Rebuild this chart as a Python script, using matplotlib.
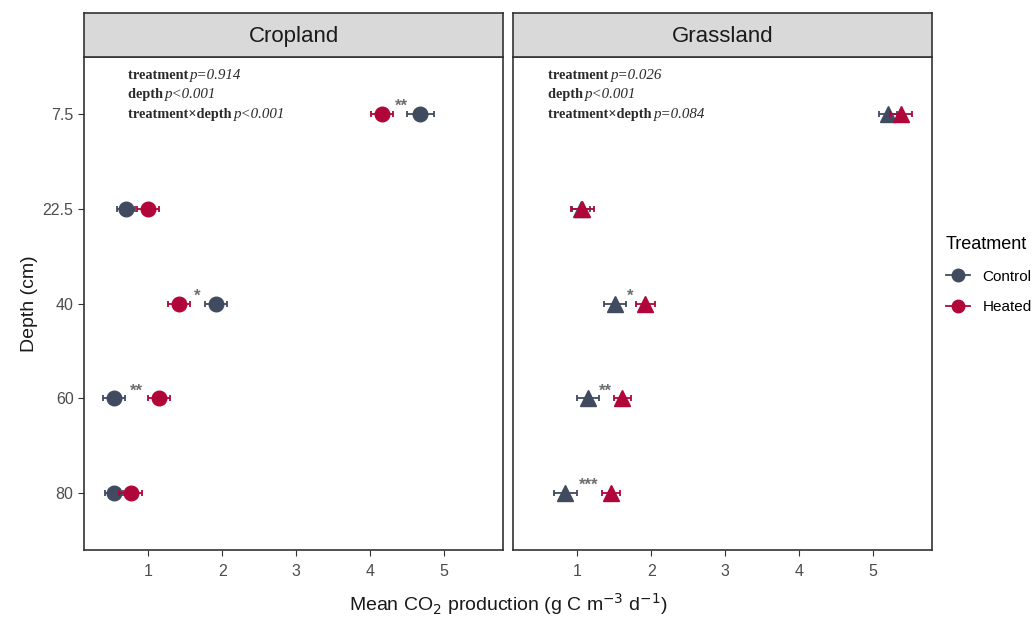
import matplotlib
matplotlib.use("Agg")
import matplotlib.pyplot as plt
from matplotlib.lines import Line2D

plt.rcParams['font.family'] = ['Liberation Sans', 'DejaVu Sans']

depths = ["7.5", "22.5", "40", "60", "80"]
panels = ["Cropland", "Grassland"]
crop_control = [4.68, 0.70, 1.92, 0.54, 0.54]
crop_heated = [4.16, 1.00, 1.41, 1.14, 0.76]
crop_ctrl_se = [0.18, 0.12, 0.15, 0.15, 0.12]
crop_heat_se = [0.15, 0.15, 0.15, 0.15, 0.15]
grass_control = [5.20, 1.05, 1.51, 1.15, 0.84]
grass_heated = [5.38, 1.07, 1.92, 1.61, 1.46]
grass_ctrl_se = [0.12, 0.12, 0.15, 0.15, 0.15]
grass_heat_se = [0.15, 0.15, 0.13, 0.12, 0.12]
crop_stars = ["**", "", "*", "**", ""]
grass_stars = ["", "", "*", "**", "***"]
crop_stats = [("treatment", "p=0.914"), ("depth", "p<0.001"), ("treatment\u00d7depth", "p<0.001")]
grass_stats = [("treatment", "p=0.026"), ("depth", "p<0.001"), ("treatment\u00d7depth", "p=0.084")]
xticks = [1, 2, 3, 4, 5]

c_ctrl = "#414b5f"
c_heat = "#b1063a"

W, H = 1032, 617
fig = plt.figure(figsize=(W / 100, H / 100), dpi=100)

def fx(px):
    return px / W

def fy(py):
    return 1 - py / H

panel_lefts = [84, 513]
pw = 419
top, bottom = 57, 550
strip_top = 13

datasets = [
    (crop_control, crop_heated, crop_ctrl_se, crop_heat_se, crop_stars, crop_stats, "o", 0.73),
    (grass_control, grass_heated, grass_ctrl_se, grass_heat_se, grass_stars, grass_stats, "^", 0.61),
]

ypos = list(range(len(depths)))

for i, (name, left) in enumerate(zip(panels, panel_lefts)):
    ctrl, heat, cse, hse, stars, stats, mk, txtx = datasets[i]
    ax = fig.add_axes([fx(left), fy(bottom), fx(pw), (bottom - top) / H])
    ax.set_xlim(0.13, 5.8)
    ax.set_ylim(len(depths) - 0.4, -0.6)
    ms = 10.5 if mk == "o" else 11.5
    ax.errorbar(ctrl, ypos, xerr=cse, fmt=mk, color=c_ctrl, ms=ms, elinewidth=1.3,
                capsize=2, capthick=1.3, zorder=3)
    ax.errorbar(heat, ypos, xerr=hse, fmt=mk, color=c_heat, ms=ms, elinewidth=1.3,
                capsize=2, capthick=1.3, zorder=4)
    for j, s in enumerate(stars):
        if s:
            xm = (ctrl[j] + heat[j]) / 2
            ax.text(xm, ypos[j], s, ha="center", va="bottom", color="#6e6e6e",
                    fontsize=12, fontweight="bold")
    for k, (lab, pv) in enumerate(stats):
        yy = -0.41 + k * 0.21
        t = ax.text(txtx, yy, lab + " ", ha="left", va="center", fontsize=10.3,
                    family="Liberation Serif", fontweight="bold", color="#2a2a2a")
        fig.canvas.draw()
        bb = t.get_window_extent()
        inv = ax.transData.inverted()
        x2 = inv.transform((bb.x1 - 2, bb.y0))[0]
        ax.text(x2, yy, pv, ha="left", va="center", fontsize=10.8,
                family="Liberation Serif", style="italic", color="#2a2a2a")
    ax.set_xticks(xticks)
    ax.set_xticklabels([str(v) for v in xticks])
    ax.set_yticks(ypos)
    ax.tick_params(colors="#333333", labelcolor="#4d4d4d", labelsize=11.5, length=4)
    ax.tick_params(axis="x", pad=6)
    if i == 0:
        ax.set_yticklabels(depths)
    else:
        ax.set_yticklabels([])
        ax.tick_params(axis="y", length=0)
    for sp in ax.spines.values():
        sp.set_color("#333333")
        sp.set_linewidth(1.2)
    sax = fig.add_axes([fx(left), fy(top), fx(pw), (top - strip_top) / H])
    sax.set_xticks([])
    sax.set_yticks([])
    sax.set_facecolor("#d9d9d9")
    for sp in sax.spines.values():
        sp.set_color("#333333")
        sp.set_linewidth(1.2)
    sax.text(0.5, 0.47, name, ha="center", va="center", fontsize=16, color="#1a1a1a",
             transform=sax.transAxes)

fig.text(fx(30), fy((top + bottom) / 2), "Depth (cm)", rotation=90, ha="center", va="center",
         fontsize=14, color="#1a1a1a")
fig.text(fx(508), fy(604), "Mean CO$_2$ production (g C m$^{-3}$ d$^{-1}$)", ha="center", va="center",
         fontsize=14, color="#1a1a1a")

handles = [
    Line2D([0], [0], color=c_ctrl, marker="o", ms=9, lw=1.3),
    Line2D([0], [0], color=c_heat, marker="o", ms=9, lw=1.3),
]
fig.legend(handles, ["Control", "Heated"], title="Treatment", loc="upper left",
           bbox_to_anchor=(fx(932), fy(222)), frameon=False, fontsize=11,
           title_fontsize=13, handlelength=1.6, labelspacing=1.1, alignment="left")

fig.savefig("out.png", dpi=100)
